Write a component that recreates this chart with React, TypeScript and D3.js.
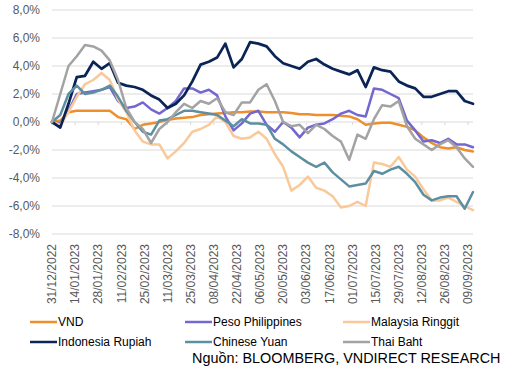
import React from "react";
import * as d3 from "d3";

const START = "31/12/2022";
const STEP_DAYS = 5;

const vnd = [0, 0.1, 0.7, 0.8, 0.8, 0.8, 0.8, 0.8, 0.35, 0.2, -0.5, -0.2, -0.1, 0.0, 0.15, 0.25, 0.3, 0.35, 0.5, 0.55, 0.6, 0.65, 0.7, 0.7, 0.75, 0.75, 0.7, 0.7, 0.7, 0.65, 0.55, 0.55, 0.5, 0.5, 0.5, 0.45, 0.4, 0.2, -0.2, -0.1, -0.05, -0.05, -0.2, -0.35, -0.6, -1.1, -1.5, -1.8, -1.9, -1.8, -2.0, -2.1];
const peso = [0, -0.1, 0.8, 2.0, 2.1, 2.2, 2.3, 2.5, 1.5, 1.0, 1.1, 1.4, 0.9, 0.6, 1.0, 1.5, 2.4, 2.4, 2.1, 2.3, 1.9, 0.4, -0.6, -0.1, 0.6, 0.8, -0.2, -0.7, 0.0, -0.4, -1.1, -0.4, -0.2, -0.1, 0.2, 0.6, 0.8, 0.5, 0.4, 2.4, 2.3, 2.0, 1.7, 0.1, -0.6, -1.4, -1.3, -1.5, -1.2, -1.6, -1.6, -1.8];
const malaysia = [0, -0.2, 0.7, 1.8, 2.7, 3.0, 3.5, 3.0, 1.6, 0.7, -0.6, -1.4, -1.6, -1.6, -2.6, -2.1, -1.5, -0.7, -0.5, -0.2, 0.4, 0.0, -1.0, -1.2, -1.1, -0.7, -1.2, -2.3, -3.2, -4.9, -4.5, -3.9, -4.7, -4.9, -5.3, -6.1, -6.0, -5.7, -6.0, -2.9, -3.0, -3.2, -2.5, -3.4, -3.9, -4.8, -5.6, -5.6, -5.4, -5.7, -6.0, -6.3];
const indonesia = [0, -0.4, 1.3, 3.2, 3.3, 4.3, 3.8, 4.2, 2.8, 2.6, 2.5, 2.3, 1.9, 1.6, 1.0, 1.3, 1.9, 2.9, 4.1, 4.3, 4.6, 5.6, 3.9, 4.5, 5.7, 5.6, 5.4, 4.7, 4.2, 4.0, 3.8, 4.3, 4.5, 4.1, 3.8, 3.6, 3.4, 3.7, 2.5, 3.9, 3.7, 3.6, 2.9, 2.6, 2.4, 1.8, 1.8, 2.0, 2.2, 2.2, 1.5, 1.3];
const yuan = [0, 0.5, 2.0, 2.6, 2.0, 2.1, 2.3, 2.6, 1.8, 0.8, 0.0, -0.7, -0.9, 0.1, 0.2, 0.5, 0.8, 0.8, 0.7, 0.6, 0.5, 0.1, -0.3, 0.2, -0.1, -0.1, -0.2, -1.2, -1.6, -2.1, -2.5, -2.9, -3.2, -2.9, -3.6, -4.1, -4.6, -4.5, -4.4, -3.5, -3.7, -3.4, -3.2, -3.7, -4.3, -5.2, -5.6, -5.4, -5.3, -5.3, -6.2, -5.0];
const thai = [0, 2.0, 4.0, 4.7, 5.5, 5.4, 5.1, 4.4, 3.0, 1.0, 0.0, -0.5, -1.5, -0.5, 0.0, 0.7, 1.3, 1.0, 1.5, 1.3, 1.7, 0.7, 0.5, 1.4, 1.4, 2.3, 2.7, 1.5, 0.0, -0.3, -0.2, -0.8, -0.2, -0.5, -1.0, -1.4, -2.7, -0.9, -1.2, 0.2, 1.2, 1.1, 1.5, -0.3, -1.2, -1.6, -2.0, -1.6, -1.3, -1.8, -2.6, -3.2];

const seriesNames = ["VND", "Peso Philippines", "Malaysia Ringgit", "Indonesia Rupiah", "Chinese Yuan", "Thai Baht"];
const seriesColors = ["#EE8F2C", "#7268D0", "#F9C99A", "#0B2456", "#5D8FA3", "#A3A3A3"];
const seriesValues = [vnd, peso, malaysia, indonesia, yuan, thai];

const yTicks = [8, 6, 4, 2, 0, -2, -4, -6, -8];
const xTickLabels = ["31/12/2022", "14/01/2023", "28/01/2023", "11/02/2023", "25/02/2023", "11/03/2023", "25/03/2023", "08/04/2023", "22/04/2023", "06/05/2023", "20/05/2023", "03/06/2023", "17/06/2023", "01/07/2023", "15/07/2023", "29/07/2023", "12/08/2023", "26/08/2023", "09/09/2023"];
const sourceText = "Nguồn: BLOOMBERG, VNDIRECT RESEARCH";

const W = 507;
const H = 376;
const FONT = "'Liberation Sans', Arial, sans-serif";
const TEXT = "#595959";

export default function App() {
  const parse = d3.timeParse("%d/%m/%Y");
  const start = parse(START) as Date;
  const n = vnd.length;
  const end = d3.timeDay.offset(start, (n - 1) * STEP_DAYS);
  const x = d3.scaleTime().domain([start, end]).range([52, 473]);
  const y = d3.scaleLinear().domain([-8, 8]).range([234, 10]);
  const fmt = (v: number) => d3.format(".1f")(v).replace(".", ",").replace("−", "-") + "%";

  const line = d3
    .line<number>()
    .x((_, i) => x(d3.timeDay.offset(start, i * STEP_DAYS)))
    .y((d) => y(d));

  const legendCols = [30, 185, 343];
  const legendRows = [322, 342];

  return (
    <svg width={W} height={H} style={{ position: "absolute", left: 0, top: 0, background: "#fff" }} fontFamily={FONT}>
      {yTicks.map((t) => (
        <g key={t}>
          <line x1={52} x2={473} y1={y(t)} y2={y(t)} stroke="#D9D9D9" strokeWidth={1} />
          <text x={40} y={y(t)} dy="0.35em" textAnchor="end" fontSize={12} fill={TEXT}>
            {fmt(t)}
          </text>
        </g>
      ))}
      {xTickLabels.map((l) => {
        const d = parse(l) as Date;
        const px = x(d);
        return (
          <g key={l}>
            <line x1={px} x2={px} y1={y(0)} y2={y(0) + 3} stroke="#D9D9D9" strokeWidth={1} />
            <text
              transform={`translate(${px},244) rotate(-90)`}
              dy="0.35em"
              textAnchor="end"
              fontSize={12}
              fill={TEXT}
            >
              {l}
            </text>
          </g>
        );
      })}
      {seriesValues.map((vals, k) => (
        <path
          key={seriesNames[k]}
          d={line(vals) || ""}
          fill="none"
          stroke={seriesColors[k]}
          strokeWidth={k === 3 ? 2.75 : 2.5}
          strokeLinejoin="round"
          strokeLinecap="round"
        />
      ))}
      {seriesNames.map((name, k) => {
        const cx = legendCols[k % 3];
        const cy = legendRows[Math.floor(k / 3)];
        return (
          <g key={name}>
            <line x1={cx} x2={cx + 27} y1={cy} y2={cy} stroke={seriesColors[k]} strokeWidth={2.5} />
            <text x={cx + 28} y={cy} dy="0.35em" fontSize={12} fill="#000">
              {name}
            </text>
          </g>
        );
      })}
      <text x={192} y={358} dy="0.35em" fontSize={14.4} fill="#000">
        {sourceText}
      </text>
    </svg>
  );
}
